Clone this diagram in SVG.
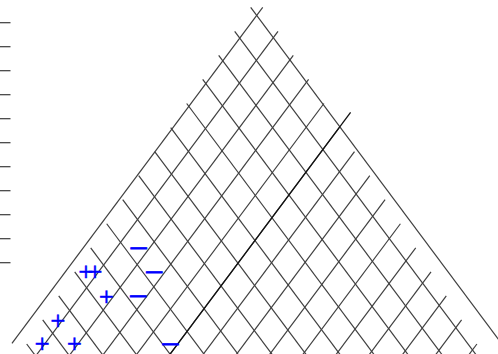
<svg xmlns="http://www.w3.org/2000/svg" width="498" height="354" viewBox="0 0 498 354">
<style>
.tick{stroke:#3a3a3a;stroke-width:1.2}
.ln{stroke:#404040;stroke-width:1.2;fill:none;stroke-linecap:butt}
.dark{stroke:#111;stroke-width:1.3;fill:none}
.p{font-family:"DejaVu Sans",sans-serif;font-size:20px;fill:#0000ff;stroke:#0000ff;stroke-width:0.4;text-anchor:middle}
.m{font-family:"DejaVu Sans",sans-serif;font-size:18px;fill:#0000ff;stroke:#0000ff;stroke-width:0.7;text-anchor:middle}
</style>
<rect width="498" height="354" fill="#fff"/>
<g id="axis-ticks">
<line class="tick" x1="0" y1="22.7" x2="10.5" y2="22.7"/>
<line class="tick" x1="0" y1="46.7" x2="10.5" y2="46.7"/>
<line class="tick" x1="0" y1="70.7" x2="10.5" y2="70.7"/>
<line class="tick" x1="0" y1="94.7" x2="10.5" y2="94.7"/>
<line class="tick" x1="0" y1="118.7" x2="10.5" y2="118.7"/>
<line class="tick" x1="0" y1="142.7" x2="10.5" y2="142.7"/>
<line class="tick" x1="0" y1="166.7" x2="10.5" y2="166.7"/>
<line class="tick" x1="0" y1="190.7" x2="10.5" y2="190.7"/>
<line class="tick" x1="0" y1="214.7" x2="10.5" y2="214.7"/>
<line class="tick" x1="0" y1="238.7" x2="10.5" y2="238.7"/>
<line class="tick" x1="0" y1="262.7" x2="10.5" y2="262.7"/>
</g>
<g id="connectors">
<g id="lines-slash">
<line class="ln" x1="262.7" y1="7.3" x2="11.95" y2="343.3"/>
<line class="ln" x1="278.0" y1="31.35" x2="35.72" y2="356"/>
<line class="ln" x1="293.3" y1="55.4" x2="68.97" y2="356"/>
<line class="ln" x1="308.6" y1="79.45" x2="102.22" y2="356"/>
<line class="ln" x1="323.9" y1="103.5" x2="135.47" y2="356"/>
<line class="ln" x1="339.2" y1="127.55" x2="168.71" y2="356"/>
<line class="ln" x1="354.5" y1="151.6" x2="201.96" y2="356"/>
<line class="ln" x1="369.8" y1="175.65" x2="235.21" y2="356"/>
<line class="ln" x1="385.1" y1="199.7" x2="268.46" y2="356"/>
<line class="ln" x1="400.4" y1="223.75" x2="301.71" y2="356"/>
<line class="ln" x1="415.7" y1="247.8" x2="334.95" y2="356"/>
<line class="ln" x1="431.0" y1="271.85" x2="368.2" y2="356"/>
<line class="ln" x1="446.3" y1="295.9" x2="401.45" y2="356"/>
<line class="ln" x1="461.6" y1="319.95" x2="434.7" y2="356"/>
<line class="ln" x1="476.9" y1="344.0" x2="467.94" y2="356"/>
</g>
<g id="lines-backslash">
<line class="ln" x1="250.7" y1="7.3" x2="510.9" y2="356"/>
<line class="ln" x1="234.7" y1="31.35" x2="476.98" y2="356"/>
<line class="ln" x1="218.7" y1="55.4" x2="443.03" y2="356"/>
<line class="ln" x1="202.7" y1="79.45" x2="409.08" y2="356"/>
<line class="ln" x1="186.7" y1="103.5" x2="375.13" y2="356"/>
<line class="ln" x1="170.7" y1="127.55" x2="341.19" y2="356"/>
<line class="ln" x1="154.7" y1="151.6" x2="307.24" y2="356"/>
<line class="ln" x1="138.7" y1="175.65" x2="273.29" y2="356"/>
<line class="ln" x1="122.7" y1="199.7" x2="239.34" y2="356"/>
<line class="ln" x1="106.7" y1="223.75" x2="205.39" y2="356"/>
<line class="ln" x1="90.7" y1="247.8" x2="171.45" y2="356"/>
<line class="ln" x1="74.7" y1="271.85" x2="137.5" y2="356"/>
<line class="ln" x1="58.7" y1="295.9" x2="103.55" y2="356"/>
<line class="ln" x1="42.7" y1="319.95" x2="69.6" y2="356"/>
<line class="ln" x1="26.7" y1="344.0" x2="35.66" y2="356"/>
</g>
<line id="dark-ray" class="dark" x1="350.58" y1="112.3" x2="168.71" y2="356"/>
</g>
<g id="charges">
<text class="p" x="77.62" y="277.5" style="text-anchor:start;letter-spacing:-7.76px">++</text>
<text class="p" x="106.3" y="302.5">+</text>
<text class="p" x="57.8" y="326.5">+</text>
<text class="p" x="42.2" y="350">+</text>
<text class="p" x="74.5" y="350">+</text>
<text class="m" transform="translate(138.7,254.3) scale(1.42,1)">−</text>
<text class="m" transform="translate(154.3,277.8) scale(1.42,1)">−</text>
<text class="m" transform="translate(138.3,302.3) scale(1.42,1)">−</text>
<text class="m" transform="translate(170.5,349.5) scale(1.42,1)">−</text>
</g>
</svg>
